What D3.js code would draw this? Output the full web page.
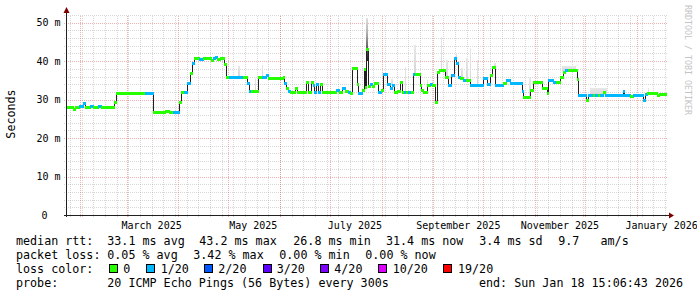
<!DOCTYPE html>
<html><head><meta charset="utf-8">
<script src="https://cdn.jsdelivr.net/npm/d3@7"></script>
<style>
html,body{margin:0;padding:0;background:#fff;}
svg{display:block;}
text{font-family:"DejaVu Sans Mono",monospace;white-space:pre;}
</style></head><body>
<svg id="c" width="697" height="297"></svg>
<script>
// ---------------- data ----------------
const times = ["2025-01-23T15","2025-01-26T01","2025-01-27T20","2025-01-29T01","2025-01-31T10","2025-02-02T20","2025-02-04T01","2025-02-07T01","2025-02-08T20","2025-02-11T20",
"2025-02-13T15","2025-02-21T10","2025-02-22T15","2025-03-09T01","2025-03-12T01","2025-03-16T20","2025-03-24T01","2025-03-26T10","2025-03-28T20","2025-04-01T10",
"2025-04-02T15","2025-04-04T10","2025-04-06T06","2025-04-08T01","2025-04-09T06","2025-04-10T10","2025-04-13T10","2025-04-15T20","2025-04-20T15","2025-04-21T20",
"2025-04-23T01","2025-04-24T06","2025-04-26T01","2025-04-28T10","2025-04-29T15","2025-05-01T10","2025-05-09T20","2025-05-12T06","2025-05-13T10","2025-05-14T15",
"2025-05-18T20","2025-05-21T06","2025-05-23T15","2025-05-24T20","2025-06-02T20","2025-06-03T10","2025-06-04T15","2025-06-05T20","2025-06-07T01","2025-06-10T01",
"2025-06-11T06","2025-06-16T15","2025-06-17T20","2025-06-19T15","2025-06-20T20","2025-06-21T10","2025-06-22T15","2025-06-23T20","2025-06-25T01","2025-06-26T06",
"2025-07-04T15","2025-07-06T10","2025-07-08T06","2025-07-10T01","2025-07-11T20","2025-07-13T01","2025-07-14T06","2025-07-17T06","2025-07-17T20","2025-07-20T06",
"2025-07-21T10","2025-07-22T01","2025-07-22T15","2025-07-23T20","2025-07-25T01","2025-07-26T06","2025-07-27T10","2025-07-29T20","2025-07-31T15","2025-08-01T20",
"2025-08-04T06","2025-08-06T01","2025-08-07T06","2025-08-08T10","2025-08-10T06","2025-08-12T01","2025-08-13T06","2025-08-14T10","2025-08-15T15","2025-08-16T20",
"2025-08-18T15","2025-08-19T20","2025-08-21T01","2025-08-24T01","2025-08-24T15","2025-08-25T20","2025-08-28T06","2025-08-30T01","2025-08-31T06","2025-09-02T01",
"2025-09-03T06","2025-09-04T10","2025-09-08T01","2025-09-09T20","2025-09-11T15","2025-09-13T10","2025-09-14T15","2025-09-15T20","2025-09-17T01","2025-09-18T20",
"2025-09-20T15","2025-09-23T01","2025-09-30T20","2025-10-03T06","2025-10-05T01","2025-10-06T06","2025-10-08T01","2025-10-12T20","2025-10-14T15","2025-10-17T01",
"2025-10-24T06","2025-10-24T20","2025-10-29T01","2025-10-30T20","2025-11-05T06","2025-11-08T06","2025-11-08T20","2025-11-11T20","2025-11-13T15","2025-11-16T01",
"2025-11-17T20","2025-11-19T01","2025-11-20T20","2025-11-26T06","2025-11-26T20","2025-12-01T15","2025-12-02T20","2025-12-05T20","2025-12-07T01","2025-12-08T20",
"2025-12-10T01","2025-12-11T20","2025-12-13T01","2025-12-23T20","2025-12-24T10","2025-12-28T01","2025-12-29T20","2026-01-04T20","2026-01-06T01","2026-01-07T06",
"2026-01-13T06","2026-01-14T10"];
// median RTT in ms
const median = [28.2,28.0,27.5,28.1,28.4,29.0,28.2,28.3,28.1,28.4,
28.2,29.4,31.6,31.8,31.8,26.8,27.0,26.8,26.8,29.3,
32.0,32.0,34.4,36.8,39.4,40.7,40.6,40.7,40.4,40.9,
41.2,40.5,40.8,39.2,35.9,35.9,35.9,34.3,32.2,32.2,
35.8,36.0,36.4,35.7,35.8,34.3,33.0,32.3,31.9,32.9,
31.9,34.6,31.9,34.6,33.8,31.9,34.0,31.9,34.0,31.9,
32.6,32.0,33.0,32.2,32.0,31.7,38.1,34.0,31.7,32.5,
38.0,33.2,43.2,33.6,34.0,33.6,34.2,32.0,32.6,36.6,
34.0,33.0,33.8,31.9,32.3,34.5,31.9,32.0,31.9,32.0,
31.9,36.6,36.6,33.8,32.5,31.9,33.8,34.0,33.8,29.3,
37.2,37.8,35.9,33.9,36.5,40.7,39.4,36.0,35.5,35.2,
35.0,33.9,35.5,34.0,36.5,38.4,33.9,34.2,35.0,34.3,
32.2,30.6,32.6,34.7,32.9,31.7,35.0,34.6,34.6,35.9,
37.3,37.8,37.8,35.3,31.2,30.0,31.2,31.2,31.2,31.1,
31.2,31.9,31.2,32.3,31.2,31.0,31.2,29.8,31.5,31.6,
31.1,31.4];
// lost pings (of 20)
const loss = [0,0,0,0,1,1,0,1,0,1,
0,0,0,0,1,0,0,0,1,0,
0,1,1,0,1,0,1,0,0,1,
1,0,0,0,0,1,0,1,1,0,
0,1,1,0,0,1,0,1,0,0,
0,0,0,0,1,1,1,1,0,0,
1,0,1,0,1,0,0,0,1,0,
0,0,0,0,1,0,0,1,0,1,
1,1,1,0,0,0,0,1,0,1,
0,1,0,0,0,0,0,1,0,0,
0,0,0,1,1,1,1,1,0,1,
0,1,1,1,0,0,1,0,1,1,
1,0,0,0,0,0,1,1,0,0,
0,1,0,0,1,0,1,0,1,0,
1,0,1,1,1,0,1,1,1,0,
0,0];
// smoke (ping spread) regions
const smokeStart = ["2025-05-06T20","2025-05-17T01","2025-05-21T06","2025-07-22T15","2025-08-06T15","2025-08-15T01","2025-08-20T10","2025-08-28T06","2025-09-05T08","2025-09-08T22",
"2025-09-14T08","2025-09-17T22","2025-09-20T15","2025-09-23T01","2025-09-27T06","2025-10-07T10","2025-10-28T10","2025-11-17T06","2025-12-04T01","2026-01-07T13"];
const smokeEnd = ["2025-05-07T18","2025-05-17T22","2025-05-22T03","2025-07-23T20","2025-08-07T13","2025-08-15T22","2025-08-21T08","2025-08-29T03","2025-09-06T06","2025-09-09T20",
"2025-09-15T06","2025-09-18T20","2025-09-21T13","2025-09-23T22","2025-09-28T03","2025-10-08T08","2025-10-29T08","2025-11-25T15","2025-12-14T06","2026-01-08T10"];
const smokeLow  = [35.9,32.2,36.0,40.0,33.8,32.0,36.6,33.8,37.8,35.9,40.7,35.5,35.0,33.9,33.9,38.4,30.6,37.5,31.2,31.6];
const smokeHigh = [38.8,35.5,39.0,51.1,35.3,38.5,44.2,35.0,46.3,40.3,42.0,38.1,40.7,43.5,40.4,39.4,35.5,38.8,32.9,33.0];

const lossLevels = [0,1,2,3,4,10,19];
const lossLabels = ["0","1/20","2/20","3/20","4/20","10/20","19/20"];
const lossColors = ["#26ff00","#00b8ff","#0059ff","#5e00ff","#7e00ff","#dd00ff","#ff0000"];

const yTicks = [0,10,20,30,40,50];
const yTickLabels = ["0","10 m","20 m","30 m","40 m","50 m"];
const xTickMonths = ["2025-03","2025-05","2025-07","2025-09","2025-11","2026-01"];
const xTickLabels = ["March 2025","May 2025","July 2025","September 2025","November 2025","January 2026"];

const endTime = "2026-01-18T15:06:43";
const spanDays = 360;
const medianStats = ["33.1 ms avg","43.2 ms max","26.8 ms min","31.4 ms now","3.4 ms sd","9.7   am/s"];
const lossStats = ["0.05 % avg","3.42 % max","0.00 % min","0.00 % now"];
const probeText = "20 ICMP Echo Pings (56 Bytes) every 300s";
const endText = "end: Sun Jan 18 15:06:43 2026";

// ---------------- drawing ----------------
const svg = d3.select("#c");
const parseT = d3.utcParse("%Y-%m-%dT%H");
const end = d3.utcParse("%Y-%m-%dT%H:%M:%S")(endTime);
const start = d3.utcDay.offset(end, -spanDays);
const L = 66, R = 666, T = 15, B = 215;
const x = d3.scaleUtc().domain([start, end]).range([L, R]);
const y = d3.scaleLinear().domain([0, 52]).range([B, T]);
const px = v => Math.round(v) + 0.5;

svg.append("rect").attr("width",697).attr("height",297).attr("fill","#fff");

const defs = svg.append("defs");
const g1 = defs.append("linearGradient").attr("id","smk").attr("x1",0).attr("y1",0).attr("x2",0).attr("y2",1);
g1.append("stop").attr("offset","0%").attr("stop-color","#e8e8e8");
g1.append("stop").attr("offset","100%").attr("stop-color","#d6d6d6");
const g2 = defs.append("linearGradient").attr("id","smkDark").attr("x1",0).attr("y1",0).attr("x2",0).attr("y2",1);
g2.append("stop").attr("offset","0%").attr("stop-color","#e0e0e0");
g2.append("stop").attr("offset","35%").attr("stop-color","#b0b0b0");
g2.append("stop").attr("offset","75%").attr("stop-color","#505050");
g2.append("stop").attr("offset","100%").attr("stop-color","#202020");
defs.append("clipPath").attr("id","plot").append("rect").attr("x",L).attr("y",T-5).attr("width",R-L+1).attr("height",B-T+5);

// grid
const minorC = "rgba(143,143,143,0.35)", majorC = "rgba(222,81,81,0.45)";
const grid = svg.append("g").attr("shape-rendering","crispEdges").attr("stroke-dasharray","1,1");
const hMinor = d3.range(2, 53, 2).filter(v => v % 10 !== 0);
grid.selectAll(".hm").data(hMinor).join("line")
  .attr("x1", L-2).attr("x2", R+1).attr("y1", d=>px(y(d))).attr("y2", d=>px(y(d))).attr("stroke", minorC);
const weeks = d3.utcSunday.range(start, end);
grid.selectAll(".vm").data(weeks).join("line")
  .attr("x1", d=>px(x(d))).attr("x2", d=>px(x(d))).attr("y1", B+2).attr("y2", T).attr("stroke", minorC);
grid.selectAll(".hM").data(yTicks.filter(v=>v>0)).join("line")
  .attr("x1", L-2).attr("x2", R+1).attr("y1", d=>px(y(d))).attr("y2", d=>px(y(d))).attr("stroke", majorC);
const months = d3.utcMonth.range(start, end);
grid.selectAll(".vM").data(months).join("line")
  .attr("x1", d=>px(x(d))).attr("x2", d=>px(x(d))).attr("y1", B+2).attr("y2", T).attr("stroke", majorC);

// smoke
const plot = svg.append("g").attr("clip-path","url(#plot)");
const maxSmoke = d3.maxIndex(smokeHigh);
plot.append("g").attr("shape-rendering","crispEdges").selectAll("rect").data(smokeStart).join("rect")
  .attr("x", (d,i)=>Math.round(x(parseT(d))))
  .attr("width", (d,i)=>Math.max(1, Math.round(x(parseT(smokeEnd[i]))) - Math.round(x(parseT(d)))))
  .attr("y", (d,i)=>Math.round(y(smokeHigh[i])))
  .attr("height", (d,i)=>Math.round(y(smokeLow[i])) - Math.round(y(smokeHigh[i])))
  .attr("fill", (d,i)=> i===maxSmoke ? "url(#smkDark)" : "url(#smk)");

// median black line
const pts = times.map((t,i)=>[x(parseT(t)), y(median[i])]);
pts.push([R+1, y(median[median.length-1])]);
plot.append("path")
  .attr("d", d3.line().x(d=>px(d[0])).y(d=>px(d[1])).curve(d3.curveStepAfter)(pts))
  .attr("fill","none").attr("stroke","#202020").attr("stroke-width",1).attr("shape-rendering","crispEdges");

// loss-coloured median bars
function lossColor(l){ let k = 0; for (let j=0;j<lossLevels.length;j++){ if (l >= lossLevels[j]) k = j; } return lossColors[k]; }
plot.append("g").attr("shape-rendering","crispEdges").selectAll("rect").data(times).join("rect")
  .attr("x", (d,i)=>Math.round(x(parseT(d))))
  .attr("width", (d,i)=>{ const x1 = i < times.length-1 ? x(parseT(times[i+1])) : R+1; return Math.max(1, Math.round(x1) - Math.round(x(parseT(d))) + 1); })
  .attr("y", (d,i)=>Math.round(y(median[i])) - 1)
  .attr("height", 3)
  .attr("fill", (d,i)=>lossColor(loss[i]));

// axes
const ax = svg.append("g").attr("shape-rendering","crispEdges");
ax.append("line").attr("x1", L-2).attr("x2", R+3).attr("y1", B+0.5).attr("y2", B+0.5).attr("stroke","#202020");
ax.append("line").attr("x1", L+0.5).attr("x2", L+0.5).attr("y1", B+2).attr("y2", T-3).attr("stroke","#202020");
svg.append("path").attr("d", `M${L-2.5},${T-2} L${L+0.5},${T-8} L${L+3.5},${T-2} Z`).attr("fill","#7f0000");
svg.append("path").attr("d", `M${R+3},${B-2.5} L${R+8},${B+0.5} L${R+3},${B+3.5} Z`).attr("fill","#7f0000");

// y labels
svg.append("g").selectAll("text").data(yTicks).join("text")
  .attr("x", (d,i)=> yTickLabels[i].indexOf(" ")<0 ? 47.5 : 60.5)
  .attr("y", d=>y(d)+3.8)
  .attr("text-anchor","end").attr("font-size","10px").attr("fill","#000")
  .text((d,i)=>yTickLabels[i]);
// x labels
const parseM = d3.utcParse("%Y-%m");
svg.append("g").selectAll("text").data(xTickMonths).join("text")
  .attr("x", d=>x(d3.utcDay.offset(parseM(d), 15)))
  .attr("y", 228.5)
  .attr("text-anchor","middle").attr("font-size","10px").attr("fill","#000")
  .text((d,i)=>xTickLabels[i]);

// vertical titles
svg.append("text").attr("transform","translate(15,114) rotate(-90)").attr("text-anchor","middle")
  .attr("font-size","11.7px").attr("fill","#000").text("Seconds");
svg.append("text").attr("transform","translate(685,5) rotate(90)").attr("text-anchor","start")
  .attr("font-size","8.3px").attr("fill","#c4c4c4").text("RRDTOOL / TOBI OETIKER");

// legend
const fs = "11.7px";
const leg = svg.append("g").attr("font-size", fs).attr("fill","#000");
function t(s, xx, yy){ leg.append("text").attr("x",xx).attr("y",yy).text(s); }
t("median rtt:", 16, 245);
[107.3,199.3,293.3,386,479.3,558.3].forEach((xx,i)=>t(medianStats[i], xx, 245));
t("packet loss:", 16, 259);
[107.3,193.3,279.3,365.3].forEach((xx,i)=>t(lossStats[i], xx, 259));
t("loss color:", 16, 273);
const boxX = [108.5,146,204,262.5,320,377.5,443];
const labX = [123.3,160.7,218.3,276.7,334.3,392.7,458];
lossLabels.forEach((lab,i)=>{
  leg.append("rect").attr("x",Math.round(boxX[i])+0.5).attr("y",264.5).attr("width",8).attr("height",8)
    .attr("fill",lossColors[i]).attr("stroke","#000").attr("stroke-width",1).attr("shape-rendering","crispEdges");
  t(lab, labX[i], 273);
});
t("probe:", 16, 287);
t(probeText, 107.3, 287);
t(endText, 479, 287);
</script>
</body></html>
